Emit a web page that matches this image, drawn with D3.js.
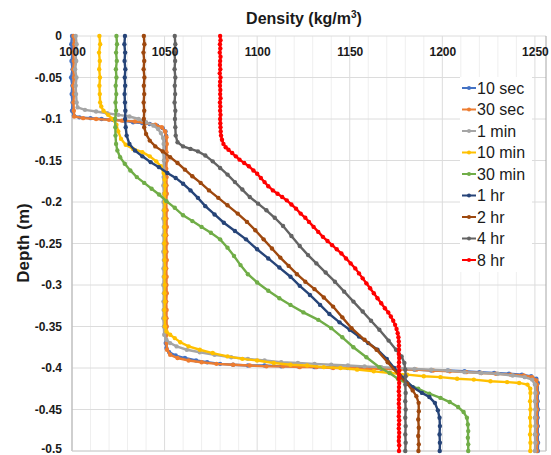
<!DOCTYPE html>
<html>
<head>
<meta charset="utf-8">
<script src="https://cdn.jsdelivr.net/npm/d3@7"></script>
<style>
  body { margin: 0; background: #fff; }
  svg { font-family: "Liberation Sans", Arial, sans-serif; }
</style>
</head>
<body>
<svg id="grafico" width="551" height="455"></svg>
<script>
var width = 551,
    height = 455,
    margin = {top: 36, right: 5, bottom: 4, left: 72}

// eixos
var xTicks = [1000, 1050, 1100, 1150, 1200, 1250]
var yTicks = [0, -0.05, -0.1, -0.15, -0.2, -0.25, -0.3, -0.35, -0.4, -0.45, -0.5]
var yTickLabels = ['0', '-0.05', '-0.1', '-0.15', '-0.2', '-0.25', '-0.3', '-0.35', '-0.4', '-0.45', '-0.5']

var seriesNames = ['10 sec', '30 sec', '1 min', '10 min', '30 min', '1 hr', '2 hr', '4 hr', '8 hr']
var seriesColors = ['#4472C4', '#ED7D31', '#A5A5A5', '#FFC000', '#70AD47', '#264478', '#9E480E', '#636363', '#FF0000']

// [densidade, profundidade]
var sec10 = [[1000,0],[999.6,-0.01],[1000.4,-0.02],[999.7,-0.03],[1000.3,-0.04],[999.5,-0.05],[1000.2,-0.06],[999.8,-0.07],[1000.3,-0.08],[1000,-0.09],[1001,-0.096],[1004,-0.098],[1010,-0.099],[1016,-0.1],[1022,-0.101],[1028,-0.102],[1033,-0.104],[1038,-0.105],[1042,-0.106],[1046,-0.108],[1049,-0.111],[1050.5,-0.115],[1050.8,-0.12],[1050.6,-0.13],[1050.8,-0.14],[1050.5,-0.15],[1050.7,-0.16],[1050.5,-0.17],[1050.8,-0.18],[1050.6,-0.19],[1050.7,-0.2],[1050.5,-0.21],[1050.8,-0.22],[1050.6,-0.23],[1050.7,-0.24],[1050.5,-0.25],[1050.8,-0.26],[1050.6,-0.27],[1050.7,-0.28],[1050.5,-0.29],[1050.8,-0.3],[1050.6,-0.31],[1050.7,-0.32],[1050.5,-0.33],[1050.8,-0.34],[1050.6,-0.35],[1050.7,-0.36],[1050.6,-0.37],[1051,-0.376],[1052.5,-0.381],[1056,-0.385],[1061,-0.388],[1067,-0.391],[1073,-0.393],[1080,-0.395],[1087,-0.396],[1095,-0.397],[1104,-0.397],[1113,-0.398],[1122,-0.398],[1131,-0.399],[1140,-0.399],[1149,-0.4],[1158,-0.4],[1167,-0.401],[1176,-0.401],[1185,-0.402],[1194,-0.403],[1203,-0.403],[1212,-0.404],[1220,-0.405],[1228,-0.406],[1236,-0.407],[1243,-0.408],[1248,-0.41],[1250.8,-0.413],[1251.6,-0.418],[1251.6,-0.43],[1251.5,-0.44],[1251.7,-0.45],[1251.5,-0.46],[1251.6,-0.47],[1251.5,-0.48],[1251.7,-0.49],[1251.6,-0.5]]

var sec30 = [[1000.8,0],[1001.2,-0.01],[1000.6,-0.02],[1001,-0.03],[1000.7,-0.04],[1001.1,-0.05],[1000.6,-0.06],[1001,-0.07],[1000.8,-0.08],[1001,-0.09],[1001.2,-0.097],[1006,-0.099],[1013,-0.1],[1020,-0.101],[1027,-0.102],[1034,-0.103],[1040,-0.105],[1045,-0.107],[1048.5,-0.11],[1050.3,-0.115],[1051,-0.122],[1051.2,-0.13],[1051,-0.14],[1051.2,-0.15],[1050.9,-0.16],[1051.1,-0.17],[1051,-0.18],[1051.2,-0.19],[1050.9,-0.2],[1051.1,-0.21],[1051,-0.22],[1051.2,-0.23],[1050.9,-0.24],[1051.1,-0.25],[1051,-0.26],[1051.2,-0.27],[1050.9,-0.28],[1051.1,-0.29],[1051,-0.3],[1051.2,-0.31],[1050.9,-0.32],[1051.1,-0.33],[1051,-0.34],[1051.2,-0.35],[1050.9,-0.36],[1051.1,-0.37],[1051.3,-0.378],[1053,-0.384],[1057,-0.388],[1063,-0.391],[1070,-0.393],[1078,-0.395],[1087,-0.396],[1096,-0.397],[1105,-0.398],[1114,-0.398],[1123,-0.399],[1132,-0.399],[1141,-0.4],[1150,-0.4],[1159,-0.401],[1168,-0.401],[1177,-0.402],[1186,-0.402],[1195,-0.403],[1204,-0.404],[1213,-0.405],[1221,-0.406],[1229,-0.407],[1237,-0.408],[1244,-0.409],[1248.5,-0.411],[1250.8,-0.415],[1251.2,-0.42],[1251.2,-0.43],[1251,-0.44],[1251.2,-0.45],[1251,-0.46],[1251.2,-0.47],[1251,-0.48],[1251.2,-0.49],[1251,-0.5]]

var min1 = [[1002,0],[1002.5,-0.01],[1001.8,-0.02],[1002.3,-0.03],[1001.7,-0.04],[1002.4,-0.05],[1002,-0.06],[1002.2,-0.07],[1002.5,-0.08],[1003,-0.086],[1007,-0.089],[1013,-0.091],[1019,-0.093],[1025,-0.095],[1031,-0.097],[1036,-0.1],[1040,-0.104],[1044,-0.108],[1046.5,-0.112],[1048,-0.117],[1049.2,-0.123],[1049.5,-0.13],[1049.3,-0.14],[1049.6,-0.15],[1049.4,-0.16],[1049.5,-0.17],[1049.3,-0.18],[1049.6,-0.19],[1049.4,-0.2],[1049.5,-0.21],[1049.3,-0.22],[1049.6,-0.23],[1049.4,-0.24],[1049.5,-0.25],[1049.3,-0.26],[1049.6,-0.27],[1049.4,-0.28],[1049.5,-0.29],[1049.3,-0.3],[1049.6,-0.31],[1049.4,-0.32],[1049.5,-0.33],[1049.3,-0.34],[1049.6,-0.35],[1049.8,-0.36],[1051,-0.366],[1053,-0.37],[1056.5,-0.374],[1062,-0.378],[1069,-0.381],[1077,-0.384],[1086,-0.387],[1095,-0.389],[1104,-0.391],[1113,-0.393],[1122,-0.394],[1131,-0.395],[1140,-0.396],[1149,-0.397],[1158,-0.398],[1167,-0.399],[1176,-0.4],[1185,-0.401],[1194,-0.402],[1203,-0.403],[1212,-0.405],[1221,-0.406],[1230,-0.407],[1238,-0.409],[1244.5,-0.411],[1248.5,-0.414],[1250,-0.42],[1250.2,-0.43],[1250,-0.44],[1250.2,-0.45],[1250,-0.46],[1250.2,-0.47],[1250,-0.48],[1250.2,-0.49],[1250,-0.5]]

var min10 = [[1014.8,0],[1015.2,-0.01],[1014.6,-0.02],[1015,-0.03],[1014.7,-0.04],[1015.1,-0.05],[1014.8,-0.06],[1015,-0.07],[1015.2,-0.08],[1015.8,-0.085],[1017,-0.09],[1019.5,-0.095],[1022,-0.1],[1024,-0.107],[1025,-0.115],[1026.5,-0.124],[1029,-0.131],[1033,-0.136],[1038,-0.14],[1042,-0.145],[1045.5,-0.151],[1048,-0.157],[1049.5,-0.165],[1050,-0.173],[1050.2,-0.18],[1050,-0.19],[1050.2,-0.2],[1049.9,-0.21],[1050.1,-0.22],[1050,-0.23],[1050.2,-0.24],[1049.9,-0.25],[1050.1,-0.26],[1050,-0.27],[1050.2,-0.28],[1049.9,-0.29],[1050.1,-0.3],[1050,-0.31],[1050.2,-0.32],[1049.9,-0.33],[1050.1,-0.34],[1050.2,-0.35],[1051,-0.356],[1053,-0.36],[1055.5,-0.364],[1058.5,-0.369],[1063,-0.374],[1069,-0.378],[1076,-0.382],[1084,-0.386],[1092,-0.389],[1100,-0.391],[1109,-0.394],[1118,-0.396],[1127,-0.397],[1136,-0.399],[1145,-0.4],[1154,-0.402],[1163,-0.404],[1172,-0.406],[1181,-0.408],[1190,-0.41],[1199,-0.411],[1208,-0.413],[1217,-0.414],[1226,-0.416],[1235,-0.417],[1241.5,-0.418],[1246,-0.42],[1247.5,-0.425],[1247.6,-0.43],[1247.4,-0.44],[1247.6,-0.45],[1247.4,-0.46],[1247.6,-0.47],[1247.4,-0.48],[1247.6,-0.49],[1247.5,-0.5]]

var min30 = [[1024,0],[1024.3,-0.01],[1023.8,-0.02],[1024.2,-0.03],[1023.7,-0.04],[1024,-0.05],[1023.6,-0.06],[1023.9,-0.07],[1023.5,-0.08],[1023.8,-0.09],[1023.3,-0.1],[1023.4,-0.11],[1023.5,-0.12],[1023.8,-0.13],[1024.5,-0.138],[1026,-0.146],[1028.5,-0.154],[1031.5,-0.162],[1035,-0.17],[1039,-0.177],[1043,-0.184],[1047,-0.191],[1051,-0.199],[1055.5,-0.207],[1060,-0.216],[1065,-0.223],[1070,-0.23],[1075,-0.237],[1080,-0.245],[1084,-0.255],[1087.5,-0.265],[1091,-0.276],[1095,-0.287],[1100,-0.297],[1106,-0.307],[1112,-0.316],[1118,-0.324],[1125,-0.333],[1133,-0.342],[1140,-0.352],[1146,-0.363],[1152,-0.375],[1159,-0.387],[1166,-0.399],[1171.5,-0.406],[1176,-0.413],[1181,-0.419],[1187,-0.425],[1193,-0.431],[1199,-0.436],[1204,-0.441],[1208.5,-0.447],[1211.5,-0.453],[1213.3,-0.46],[1213.8,-0.468],[1214,-0.476],[1213.8,-0.484],[1214,-0.492],[1214,-0.5]]

var hr1 = [[1028.6,0],[1028.3,-0.01],[1028.7,-0.02],[1028.4,-0.03],[1028.8,-0.04],[1028.5,-0.05],[1028.7,-0.06],[1028.4,-0.07],[1028.6,-0.08],[1028.8,-0.09],[1028.7,-0.1],[1029,-0.11],[1029.5,-0.12],[1031,-0.13],[1034,-0.138],[1038,-0.145],[1042.5,-0.152],[1047,-0.158],[1051.5,-0.165],[1056,-0.171],[1060,-0.178],[1064,-0.186],[1068,-0.195],[1072,-0.205],[1077,-0.215],[1082,-0.225],[1088,-0.235],[1094,-0.245],[1100,-0.257],[1106,-0.268],[1112,-0.279],[1118,-0.29],[1123,-0.301],[1128.5,-0.312],[1134,-0.324],[1139,-0.335],[1144.5,-0.345],[1150,-0.354],[1155,-0.362],[1160,-0.37],[1165,-0.378],[1170,-0.389],[1174,-0.4],[1179,-0.412],[1184,-0.423],[1189,-0.43],[1193,-0.435],[1196,-0.442],[1197.6,-0.451],[1198.5,-0.46],[1198.7,-0.47],[1198.5,-0.48],[1198.7,-0.49],[1198.6,-0.5]]

var hr2 = [[1038.8,0],[1039.1,-0.01],[1038.6,-0.02],[1039,-0.03],[1038.7,-0.04],[1039.1,-0.05],[1038.8,-0.06],[1039,-0.07],[1038.7,-0.08],[1039,-0.09],[1038.8,-0.1],[1039,-0.11],[1040,-0.118],[1042,-0.126],[1045,-0.133],[1049,-0.139],[1053,-0.146],[1057,-0.153],[1061,-0.161],[1065,-0.169],[1069.5,-0.177],[1074,-0.186],[1079,-0.195],[1084,-0.204],[1089.5,-0.214],[1094.5,-0.224],[1099,-0.234],[1103.5,-0.245],[1108,-0.256],[1112.5,-0.267],[1117,-0.277],[1121.5,-0.287],[1126,-0.296],[1131,-0.305],[1136,-0.315],[1141,-0.326],[1146,-0.339],[1151,-0.352],[1158,-0.366],[1164.5,-0.378],[1170.5,-0.393],[1177,-0.41],[1181,-0.419],[1184,-0.427],[1186,-0.434],[1187.2,-0.442],[1187.3,-0.452],[1187,-0.462],[1187.3,-0.472],[1187,-0.482],[1187.3,-0.492],[1187.1,-0.5]]

var hr4 = [[1055.5,0],[1055.8,-0.01],[1055.3,-0.02],[1055.7,-0.03],[1055.4,-0.04],[1055.8,-0.05],[1055.5,-0.06],[1055.7,-0.07],[1055.4,-0.08],[1055.8,-0.09],[1055.6,-0.1],[1055.8,-0.11],[1056,-0.12],[1057,-0.128],[1060,-0.133],[1064,-0.136],[1068,-0.139],[1072,-0.144],[1076,-0.151],[1080,-0.159],[1084,-0.167],[1088,-0.176],[1092,-0.185],[1096,-0.194],[1100.5,-0.202],[1105,-0.21],[1109.5,-0.219],[1114,-0.229],[1118.5,-0.241],[1123,-0.253],[1127.5,-0.264],[1132,-0.274],[1137,-0.285],[1142,-0.296],[1147,-0.308],[1152,-0.32],[1157,-0.332],[1161.5,-0.343],[1166,-0.354],[1171,-0.367],[1175,-0.378],[1178,-0.386],[1179.5,-0.394],[1180,-0.402],[1180.2,-0.41],[1180,-0.42],[1180.2,-0.43],[1180,-0.44],[1180.2,-0.45],[1180,-0.46],[1180.2,-0.47],[1180,-0.48],[1180.2,-0.49],[1180,-0.5]]

var hr8 = [[1080,0],[1080.2,-0.005],[1079.9,-0.01],[1080.1,-0.015],[1079.8,-0.02],[1080.2,-0.025],[1080,-0.03],[1079.9,-0.035],[1080.1,-0.04],[1079.8,-0.045],[1080.2,-0.05],[1080,-0.055],[1079.9,-0.06],[1080.1,-0.065],[1080,-0.07],[1080.2,-0.075],[1079.9,-0.08],[1080.1,-0.085],[1080,-0.09],[1080.2,-0.095],[1080,-0.1],[1080.1,-0.105],[1080.2,-0.11],[1080.3,-0.115],[1080.5,-0.12],[1081,-0.125],[1081.8,-0.13],[1083,-0.134],[1084.5,-0.137],[1086.5,-0.141],[1088.5,-0.145],[1090.5,-0.149],[1093,-0.153],[1095.5,-0.157],[1098,-0.162],[1100,-0.166],[1102,-0.171],[1104,-0.176],[1106,-0.181],[1108.5,-0.186],[1111,-0.19],[1113.5,-0.194],[1116,-0.198],[1118.5,-0.203],[1121,-0.208],[1123.5,-0.214],[1126,-0.219],[1128,-0.224],[1130.5,-0.23],[1133,-0.236],[1135.5,-0.242],[1138,-0.247],[1140.5,-0.252],[1143,-0.257],[1145.5,-0.262],[1148,-0.268],[1150.5,-0.274],[1153,-0.28],[1155,-0.286],[1157,-0.292],[1159,-0.298],[1161,-0.304],[1163,-0.31],[1165,-0.316],[1167,-0.322],[1169,-0.328],[1170.8,-0.333],[1172.2,-0.338],[1173.5,-0.343],[1174.5,-0.348],[1175.3,-0.353],[1175.9,-0.358],[1176.3,-0.363],[1176.5,-0.368],[1176.6,-0.373],[1176.6,-0.378],[1176.5,-0.383],[1176.7,-0.388],[1176.6,-0.393],[1176.5,-0.398],[1176.7,-0.403],[1176.6,-0.408],[1176.5,-0.413],[1176.7,-0.418],[1176.6,-0.423],[1176.5,-0.428],[1176.7,-0.433],[1176.6,-0.438],[1176.5,-0.443],[1176.7,-0.448],[1176.6,-0.453],[1176.5,-0.458],[1176.7,-0.463],[1176.6,-0.468],[1176.5,-0.473],[1176.7,-0.478],[1176.6,-0.483],[1176.5,-0.488],[1176.7,-0.493],[1176.6,-0.5]]

var seriesData = [sec10, sec30, min1, min10, min30, hr1, hr2, hr4, hr8]

var x = d3.scaleLinear().domain([1000, 1256]).range([margin.left, 546])
var y = d3.scaleLinear().domain([0, -0.5]).range([margin.top, 451])

var svg = d3.select('#grafico')

// grade fina a cada 10
var grade = svg.append('g')
grade.selectAll('.minor')
    .data(d3.range(1010, 1256, 10).filter(function(v) { return v % 50 != 0 }))
  .enter().append('line')
    .attr('x1', x).attr('x2', x)
    .attr('y1', y(0)).attr('y2', y(-0.5))
    .attr('stroke', '#efefef')
grade.selectAll('.majorX')
    .data(xTicks.slice(1))
  .enter().append('line')
    .attr('x1', x).attr('x2', x)
    .attr('y1', y(0)).attr('y2', y(-0.5))
    .attr('stroke', '#dcdcdc')
grade.selectAll('.majorY')
    .data(yTicks)
  .enter().append('line')
    .attr('x1', x(1000)).attr('x2', 546)
    .attr('y1', y).attr('y2', y)
    .attr('stroke', '#dcdcdc')

// bordas
svg.append('line').attr('x1', x(1000)).attr('x2', x(1000)).attr('y1', y(0)).attr('y2', y(-0.5))
    .attr('stroke', '#bfbfbf').attr('stroke-width', 1.5)
svg.append('line').attr('x1', 546).attr('x2', 546).attr('y1', y(0)).attr('y2', y(-0.5))
    .attr('stroke', '#a6a6a6')
svg.append('line').attr('x1', x(1000)).attr('x2', 546).attr('y1', y(-0.5)).attr('y2', y(-0.5))
    .attr('stroke', '#d0d0d0')

// linhas
var linha = d3.line()
    .x(function(d) { return x(d[0]) })
    .y(function(d) { return y(d[1]) })

seriesData.forEach(function(serie, i) {
    var g = svg.append('g').attr('class', 'serie')
    g.append('path')
        .datum(serie)
        .attr('d', linha)
        .attr('fill', 'none')
        .attr('stroke', seriesColors[i])
        .attr('stroke-width', 2.4)
    g.selectAll('circle')
        .data(serie)
      .enter().append('circle')
        .attr('cx', function(d) { return x(d[0]) })
        .attr('cy', function(d) { return y(d[1]) })
        .attr('r', 2.2)
        .attr('fill', seriesColors[i])
})

// eixo x (rotulos no topo, dentro da area)
var eixoX = svg.append('g')
    .attr('transform', 'translate(0,' + y(0) + ')')
    .call(d3.axisBottom(x).tickValues(xTicks).tickSize(0).tickPadding(11).tickFormat(d3.format('d')))
eixoX.select('.domain').remove()
eixoX.selectAll('text').attr('font-size', 12).attr('font-weight', 'bold').attr('fill', '#1a1a1a')
    .attr('font-family', '"Liberation Sans", Arial, sans-serif')

var eixoY = svg.append('g')
    .attr('transform', 'translate(' + x(1000) + ',0)')
    .call(d3.axisLeft(y).tickValues(yTicks).tickSize(0).tickPadding(10)
        .tickFormat(function(d, i) { return yTickLabels[i] }))
eixoY.select('.domain').remove()
eixoY.selectAll('text').attr('font-size', 12).attr('font-weight', 'bold').attr('fill', '#1a1a1a')
    .attr('font-family', '"Liberation Sans", Arial, sans-serif')
// ultimo rotulo encostado na borda de baixo
eixoY.selectAll('text').filter(function(d) { return d == -0.5 }).attr('dy', '0.1em')

// titulos
var titulo = svg.append('text')
    .attr('x', 304).attr('y', 24)
    .attr('text-anchor', 'middle')
    .attr('font-size', 16).attr('font-weight', 'bold').attr('fill', '#1a1a1a')
titulo.append('tspan').text('Density (kg/m')
titulo.append('tspan').text('3').attr('font-size', 10).attr('dy', -6)
titulo.append('tspan').text(')').attr('dy', 6)

svg.append('text')
    .attr('transform', 'translate(23,243) rotate(-90)')
    .attr('text-anchor', 'middle')
    .attr('dominant-baseline', 'central')
    .attr('font-size', 17).attr('font-weight', 'bold').attr('fill', '#1a1a1a')
    .text('Depth (m)')

// legenda
var legenda = svg.append('g')
legenda.append('rect')
    .attr('x', 460).attr('y', 77).attr('width', 72).attr('height', 195)
    .attr('fill', '#fff')
var itens = legenda.selectAll('.item')
    .data(seriesNames)
  .enter().append('g')
    .attr('transform', function(d, i) { return 'translate(462,' + (88 + i * 21.5) + ')' })
itens.append('line')
    .attr('x1', 0).attr('x2', 14)
    .attr('stroke', function(d, i) { return seriesColors[i] })
    .attr('stroke-width', 2)
itens.append('circle')
    .attr('cx', 7).attr('r', 2)
    .attr('fill', function(d, i) { return seriesColors[i] })
itens.append('text')
    .attr('x', 15).attr('dy', '0.36em')
    .attr('font-size', 16).attr('fill', '#1a1a1a')
    .text(function(d) { return d })
</script>
</body>
</html>
